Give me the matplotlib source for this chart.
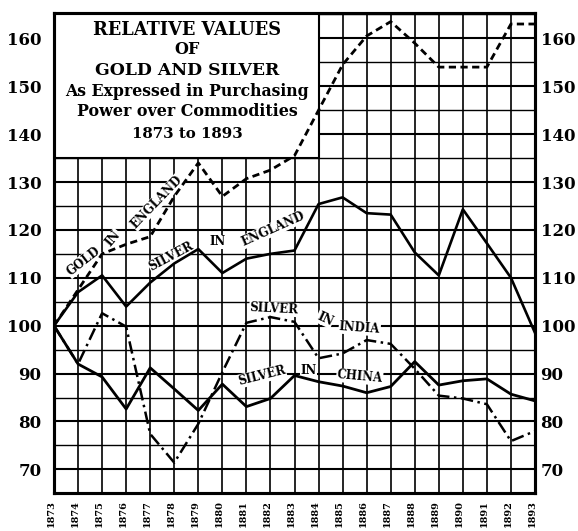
import matplotlib
matplotlib.use("Agg")
import matplotlib.pyplot as plt
from matplotlib.patches import Rectangle
from matplotlib.transforms import ScaledTranslation

years = list(range(1873, 1894))
gold_england = [100, 107.5, 115, 117, 118.6, 127, 134, 127, 130.7, 132.5, 135.5,
                145, 154.5, 160.5, 163.5, 159, 154, 154, 154, 163, 163]
silver_england = [100, 107, 110.5, 104, 109, 113, 116, 111, 114, 115, 115.7,
                  125.4, 126.8, 123.5, 123.2, 115.3, 110.5, 124.3, 117.2, 110, 98.5]
silver_india = [100, 92, 102.6, 99.8, 77.4, 71.4, 79.5, 90.3, 100.6, 101.8, 100.8,
                93.2, 94.2, 97, 96.2, 91, 85.4, 84.8, 83.6, 75.9, 78]
silver_china = [100, 92, 89.3, 82.6, 91.2, 86.8, 82.3, 87.8, 83.1, 84.8, 89.6,
                88.3, 87.4, 86, 87.3, 92.5, 87.6, 88.5, 88.9, 85.7, 84.3]
y_ticks = list(range(70, 161, 10))
title_lines = ["RELATIVE VALUES", "OF", "GOLD AND SILVER",
               "As Expressed in Purchasing", "Power over Commodities", "1873 to 1893"]

SERIF = ["DejaVu Serif"]

fig = plt.figure(figsize=(5.78, 5.31), dpi=100)
ax = fig.add_axes([54/578, 1-493.3/531, 481/578, 480.3/531])
ax.set_xlim(1873, 1893)
ax.set_ylim(65, 165.3)

# grid
ax.set_xticks(years)
ax.set_xticklabels([str(y) for y in years], rotation=90, fontsize=7,
                   fontweight="bold", family=SERIF)
ax.set_yticks(y_ticks)
ax.set_yticklabels([str(v) for v in y_ticks], fontsize=12, fontweight="bold", family=SERIF)
ax.set_yticks(list(range(65, 166, 5)), minor=True)
ax.set_axisbelow(True)
ax.grid(True, which="major", axis="x", color="black", lw=1.2)
ax.grid(True, which="major", axis="y", color="black", lw=1.5)
ax.grid(True, which="minor", axis="y", color="black", lw=1.0)
ax.tick_params(axis="both", which="both", length=0)
ax.tick_params(axis="x", pad=5)
ax.tick_params(axis="y", pad=9)
for lab in ax.get_xticklabels():
    lab.set_transform(lab.get_transform() + ScaledTranslation(-3/100, 0, fig.dpi_scale_trans))

ax2 = ax.twinx()
ax2.set_ylim(ax.get_ylim())
ax2.set_yticks(y_ticks)
ax2.set_yticklabels([str(v) for v in y_ticks], fontsize=12, fontweight="bold", family=SERIF)
ax2.tick_params(axis="y", length=0, pad=4)
for a in (ax, ax2):
    for s in a.spines.values():
        s.set_linewidth(2.2)
        s.set_color("black")

# title box
ax.add_patch(Rectangle((1873, 135), 11, 31, facecolor="white", edgecolor="black",
                       lw=1.5, zorder=2))
ys = [0.965, 0.925, 0.880, 0.836, 0.795, 0.748]
sizes = [12.8, 11.5, 12.4, 11.3, 11.4, 10.8]
for t, yy, fs in zip(title_lines, ys, sizes):
    ax.text(0.2765, yy, t, transform=ax.transAxes, ha="center", va="center",
            fontsize=fs, fontweight="bold", family=SERIF, zorder=3)

# series
ax.plot(years, gold_england, color="black", lw=2.0, ls=(0, (2.6, 1.6)), zorder=5)
ax.plot(years, silver_england, color="black", lw=1.9, zorder=5)
ax.plot(years, silver_india, color="black", lw=1.8, ls=(0, (5, 1.8, 1.0, 1.8)), zorder=5)
ax.plot(years, silver_china, color="black", lw=2.0, zorder=5)

labels = [
    ("GOLD", 1874.22, 113.4, 38), ("IN", 1875.47, 118.2, 50), ("ENGLAND", 1877.27, 125.8, 46),
    ("SILVER", 1877.89, 114.4, 28), ("IN", 1879.79, 117.5, 0), ("ENGLAND", 1882.12, 120.2, 24),
    ("SILVER", 1882.15, 103.5, -3), ("IN", 1884.27, 101.4, -25), ("INDIA", 1885.71, 99.5, -4),
    ("SILVER", 1881.64, 89.5, 14), ("IN", 1883.57, 90.6, 0), ("CHINA", 1885.71, 89.3, -5),
]
for t, x, y, r in labels:
    ax.text(x, y, t, rotation=r, ha="center", va="center", fontsize=8.5,
            fontweight="bold", family=SERIF, zorder=4, rotation_mode="anchor",
            bbox=dict(facecolor="white", edgecolor="none", pad=0.3))

fig.savefig("out.png", dpi=100)
